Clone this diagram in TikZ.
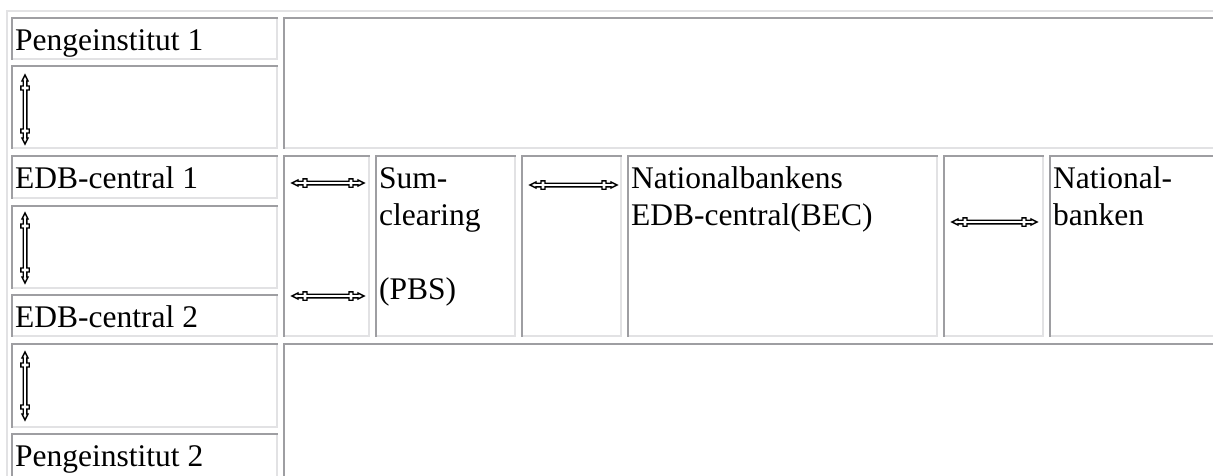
\documentclass[tikz,border=0pt]{standalone}
\usepackage{fontspec}
\setmainfont{Liberation Serif}
\definecolor{bdark}{RGB}{158,158,162}
\definecolor{blight}{RGB}{226,226,228}
\newcommand\cellbox[4]{%
  \fill[bdark] (#1,#2) rectangle (#3,#2+2);
  \fill[bdark] (#1,#2) rectangle (#1+2,#4);
  \fill[blight] (#1+2,#4-2) rectangle (#3,#4);
  \fill[blight] (#3-2,#2+2) rectangle (#3,#4);
}
\tikzset{
  txt/.style={anchor=base west, inner sep=0pt, font=\fontsize{31.5}{37}\selectfont},
  arrstroke/.style={line width=1.4pt, draw=black, fill=white, line join=miter},
  pics/dblh/.style={code={
    \draw[arrstroke] (0,0) -- (6,-3) -- (6,-1.8) -- (11,-1.8) -- (11,-4.2) -- (15,-4.2) -- (15,-1.8)
      -- ({#1-15},-1.8) -- ({#1-15},-4.2) -- ({#1-11},-4.2) -- ({#1-11},-1.8) -- ({#1-6},-1.8) -- ({#1-6},-3)
      -- (#1,0)
      -- ({#1-6},3) -- ({#1-6},1.8) -- ({#1-11},1.8) -- ({#1-11},4.2) -- ({#1-15},4.2) -- ({#1-15},1.8)
      -- (15,1.8) -- (15,4.2) -- (11,4.2) -- (11,1.8) -- (6,1.8) -- (6,3) -- cycle;
  }}
}
\begin{document}
\begin{tikzpicture}[x=1pt,y=-1pt]
\useasboundingbox (0,0) rectangle (1213,475);
\clip (0,0) rectangle (1213,475);
% outer table border
\fill[blight] (6,10) rectangle (1220,12);
\fill[blight] (6,10) rectangle (8,480);
% left column cells
\cellbox{11}{17}{278}{60}
\cellbox{11}{65}{278}{149}
\cellbox{11}{155}{278}{199}
\cellbox{11}{205}{278}{289}
\cellbox{11}{294}{278}{337}
\cellbox{11}{343}{278}{428}
\cellbox{11}{433}{278}{490}
% big right cells
\cellbox{283}{17}{1225}{149}
\cellbox{283}{343}{1225}{490}
% middle row cells
\cellbox{283}{155}{370}{337}
\cellbox{375}{155}{516}{337}
\cellbox{521}{155}{622}{337}
\cellbox{627}{155}{938}{337}
\cellbox{943}{155}{1044}{337}
\cellbox{1049}{155}{1225}{337}
% texts
\node[txt] (p1) at (15,50) {Pengeinstitut 1};
\node[txt] (e1) at (15,188) {EDB-central 1};
\node[txt] (e2) at (15,327) {EDB-central 2};
\node[txt] (p2) at (15,466) {Pengeinstitut 2};
\node[txt] (sum1) at (379,188) {Sum-};
\node[txt] (sum2) at (379,225) {clearing};
\node[txt] (sum3) at (379,299) {(PBS)};
\node[txt] (nb1) at (631,188) {Nationalbankens};
\node[txt] (nb2) at (631,225) {EDB-central(BEC)};
\node[txt] (nat1) at (1053,188) {National-};
\node[txt] (nat2) at (1053,225) {banken};
% arrows
\coordinate (h1) at (292,183);
\coordinate (h2) at (292,296);
\coordinate (h3) at (530,185);
\coordinate (h4) at (952,222);
\coordinate (v1) at (25,75);
\coordinate (v2) at (25,213);
\coordinate (v3) at (25,352);
\pic at (h1) {dblh=72};
\pic at (h2) {dblh=72};
\pic at (h3) {dblh=87};
\pic at (h4) {dblh=85};
\pic[rotate=-90] at (v1) {dblh=69};
\pic[rotate=-90] at (v2) {dblh=70};
\pic[rotate=-90] at (v3) {dblh=68};
\end{tikzpicture}
\end{document}
